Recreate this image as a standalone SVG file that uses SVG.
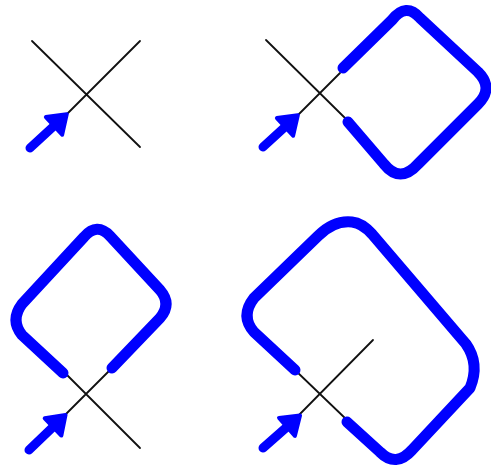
<svg xmlns="http://www.w3.org/2000/svg" width="491" height="473" viewBox="0 0 491 473">
<style>
.x{stroke:#111;stroke-width:1.8;fill:none;stroke-linecap:round}
.loop{stroke:#0000ff;stroke-width:11;fill:none;stroke-linecap:round;stroke-linejoin:round}
.arr{stroke:#0000ff;stroke-width:9;fill:none;stroke-linecap:round}
</style>
<defs>
<marker id="ah" markerUnits="userSpaceOnUse" markerWidth="40" markerHeight="40" refX="0" refY="0" viewBox="-5 -15 30 30" orient="auto" overflow="visible">
<path d="M-1,-9 L12,0 L-1,9 Z" fill="#0000ff" stroke="#0000ff" stroke-width="3" stroke-linejoin="round"/>
</marker>
</defs>
<rect width="491" height="473" fill="#fff"/>
<g id="panel1">
<path class="x" d="M32,41 L140,147 M140,41 L65,116"/>
</g>
<g id="panel2">
<path class="x" d="M266,40 L345,118 M340,73 L295,118"/>
<path class="loop" d="M343,68 L392,20 Q406,2 420,18 L478,72 Q494,88 478,104 L418,164 Q400,184 384,164 L348,122"/>
</g>
<g id="panel3">
<path class="x" d="M65,373 L140,448 M110,370 L63,417"/>
<path class="loop" d="M63,373 L22,335 Q10,320 22,304 L84,237 Q97,222 110,236 L160,290 Q172,304 160,318 L112,368"/>
</g>
<g id="panel4">
<path class="x" d="M295,370 L347,420 M373,340 L297,417"/>
<path class="loop" d="M295,370 L254,332 Q240,316 254,298 L318,236 Q334,220 352,222 Q362,223 372,234 L466,344 Q480,364 470,388 L412,450 Q396,468 380,452 L347,422"/>
</g>
<g id="connectors">
<path class="arr" d="M30,148 L55,125" marker-end="url(#ah)"/>
<path class="arr" d="M263,147 L286,126" marker-end="url(#ah)"/>
<path class="arr" d="M29,450 L54,426" marker-end="url(#ah)"/>
<path class="arr" d="M263,448 L288,426" marker-end="url(#ah)"/>
</g>
</svg>
